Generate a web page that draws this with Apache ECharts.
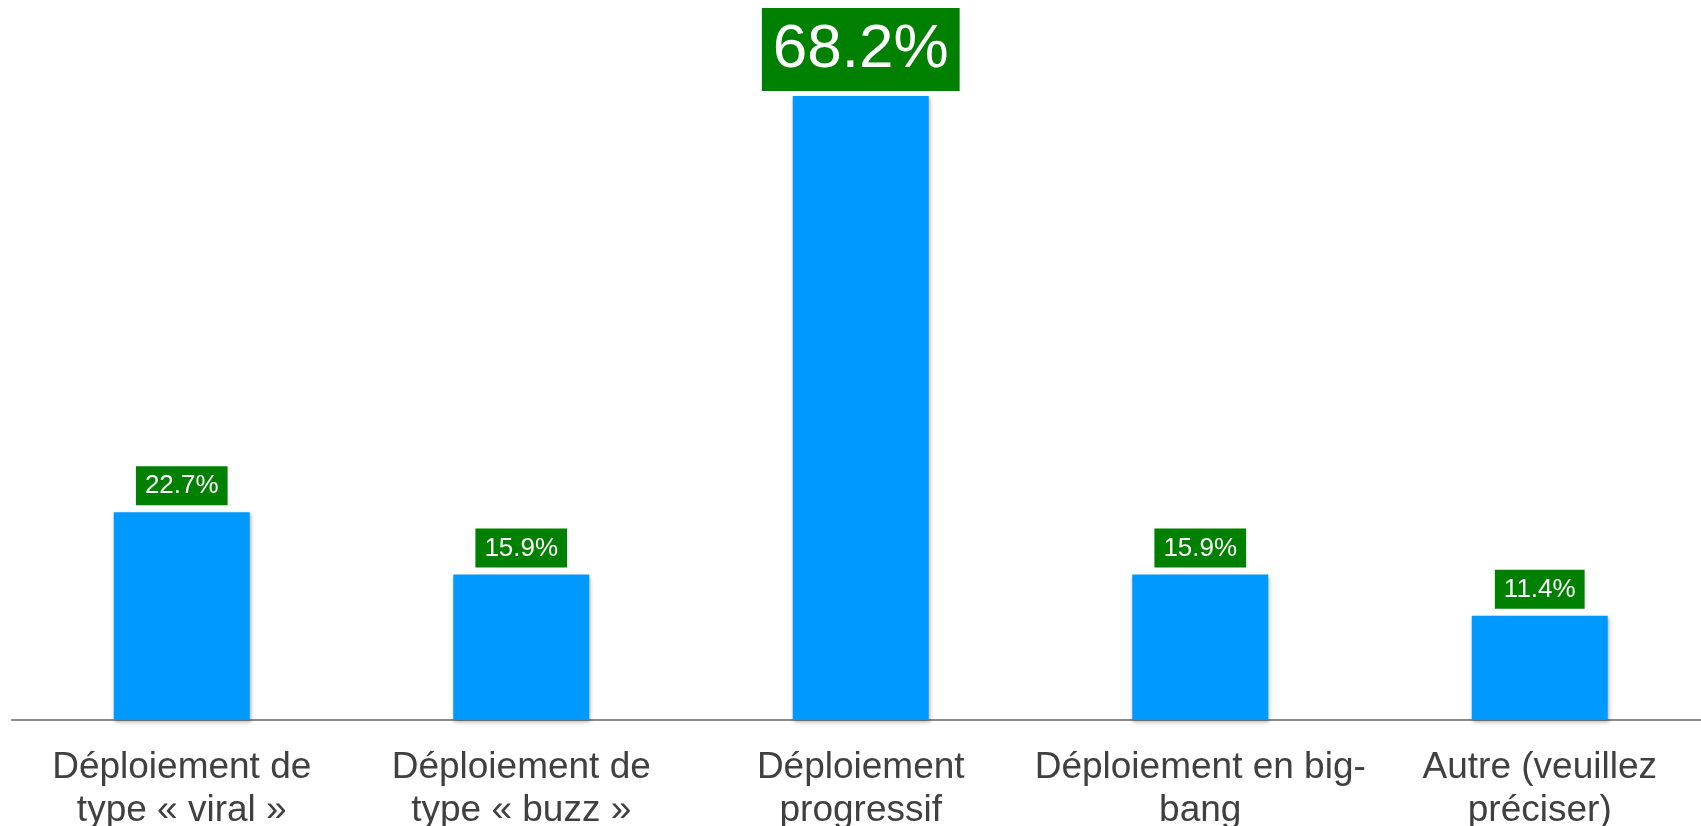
<!DOCTYPE html>
<html>
<head>
<meta charset="utf-8">
<script src="https://cdn.jsdelivr.net/npm/echarts@6/dist/echarts.min.js"></script>
<style>
  html, body { margin: 0; padding: 0; background: #fff; overflow: hidden; }
  #chart { width: 1720px; height: 826px; }
</style>
</head>
<body>
<div id="chart"></div>
<script>
const categories = [
  'Déploiement de\ntype « viral »',
  'Déploiement de\ntype « buzz »',
  'Déploiement\nprogressif',
  'Déploiement en big-\nbang',
  'Autre (veuillez\npréciser)'
]
const values = [22.7, 15.9, 68.2, 15.9, 11.4]
const highlightIndex = 2

const chart = echarts.init(document.getElementById('chart'))

const fontFamily = '"Liberation Sans", Arial, sans-serif'

// the big one gets its own label style
const seriesData = values.map((v, i) => {
  if (i !== highlightIndex) return v
  return {
    value: v,
    label: {
      fontSize: 62,
      padding: [11, 11, 10, 11],
      distance: 5
    }
  }
})

const option = {
  backgroundColor: '#fff',
  animation: false,
  grid: {
    left: 12,
    top: 79.5,
    width: 1697.5,
    height: 640.5,
    outerBoundsMode: 'none',
    containLabel: false
  },
  xAxis: {
    type: 'category',
    data: categories,
    axisTick: { show: false },
    axisLine: {
      show: true,
      lineStyle: { color: '#8a8a8a', width: 2 }
    },
    axisLabel: {
      color: '#404040',
      fontSize: 37,
      fontFamily: fontFamily,
      lineHeight: 43,
      margin: 26,
      interval: 0
    }
  },
  yAxis: {
    type: 'value',
    min: 0,
    max: 70,
    show: false,
    splitLine: { show: false }
  },
  series: [
    {
      type: 'bar',
      data: seriesData,
      barWidth: 136,
      itemStyle: {
        color: '#0099ff',
        shadowColor: 'rgba(0,0,0,0.3)',
        shadowBlur: 4,
        shadowOffsetX: 1,
        shadowOffsetY: 2
      },
      label: {
        show: true,
        position: 'top',
        distance: 7,
        formatter: '{c}%',
        color: '#fff',
        fontSize: 26,
        fontFamily: fontFamily,
        backgroundColor: '#008000',
        padding: [7, 9, 6, 9]
      }
    }
  ]
}

chart.setOption(option)
</script>
</body>
</html>
